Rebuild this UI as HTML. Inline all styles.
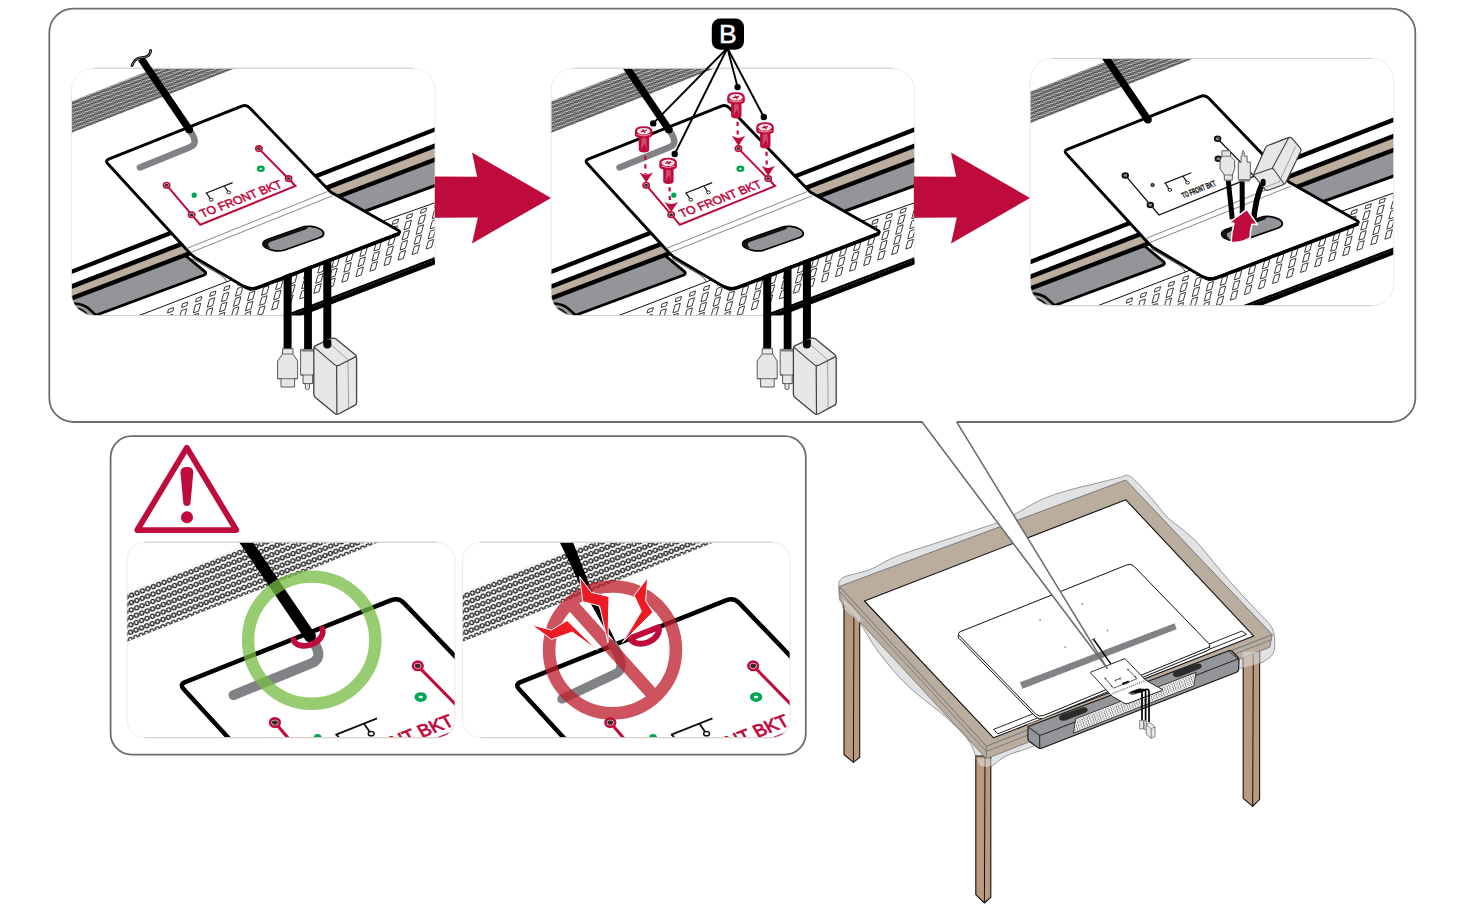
<!DOCTYPE html>
<html lang="en"><head><meta charset="utf-8"><title>Installation step</title>
<style>html,body{margin:0;padding:0;background:#fff}body{width:1465px;height:908px;overflow:hidden}svg{display:block}text{font-family:"Liberation Sans",Arial,sans-serif}</style></head>
<body>
<svg width="1465" height="908" viewBox="0 0 1465 908">
<defs>
<pattern id="grille" width="3.65" height="7.4" patternUnits="userSpaceOnUse" patternTransform="translate(71.5 101.6) rotate(-21.5)"><circle cx="1.825" cy="1.85" r="1.25" fill="none" stroke="#0a0a0a" stroke-width="0.965"/><circle cx="0" cy="5.55" r="1.25" fill="none" stroke="#0a0a0a" stroke-width="0.965"/><circle cx="3.65" cy="5.55" r="1.25" fill="none" stroke="#0a0a0a" stroke-width="0.965"/></pattern>
<pattern id="grilleB" width="3.75" height="8.8" patternUnits="userSpaceOnUse" patternTransform="translate(71.5 101.6) rotate(-21.5)"><circle cx="1.875" cy="2.2" r="1.3" fill="none" stroke="#111" stroke-width="0.86"/><circle cx="0" cy="6.6" r="1.3" fill="none" stroke="#111" stroke-width="0.86"/><circle cx="3.75" cy="6.6" r="1.3" fill="none" stroke="#111" stroke-width="0.86"/></pattern>
<clipPath id="cp1"><rect x="71.5" y="68.3" width="363.5" height="247.2" rx="22"/></clipPath>
<clipPath id="cpA"><rect x="127" y="542.2" width="328" height="195.5" rx="18"/></clipPath>
<clipPath id="cpB"><rect x="462.4" y="542.2" width="327.6" height="195.5" rx="18"/></clipPath>
<pattern id="xh" width="2.6" height="3.2" patternUnits="userSpaceOnUse" patternTransform="rotate(-21)"><path d="M0.2 3.2 L1.5 0" fill="none" stroke="#333" stroke-width="0.6"/></pattern>
<g id="tvbase"><rect x="40" y="40" width="430" height="300" fill="#fff"/>
<polygon points="55,292.99 450,139.99 450,153.98 55,304.7" fill="#bcae9f"/>
<path d="M55 304.7 L185 255.09 L205.2 271.8 Q206.8 274 203.6 275.2 L55 330.55 Z" fill="#939598"/>
<path d="M185 255.09 L205.2 271.8 Q206.8 274 203.6 275.2 L96.5 315" fill="none" stroke="#000" stroke-width="2.8" stroke-linejoin="round"/>
<polygon points="335,197.86 450,153.98 450,180.23 360,213.01" fill="#939598"/>
<line x1="360" y1="213.01" x2="450" y2="180.23" stroke="#000" stroke-width="3"/>
<line x1="55" y1="278.26" x2="450" y2="123.63" stroke="#000" stroke-width="4.4"/>
<line x1="55" y1="292.99" x2="450" y2="139.99" stroke="#000" stroke-width="4.6"/>
<line x1="55" y1="304.7" x2="450" y2="153.98" stroke="#000" stroke-width="4.4"/>
<line x1="120" y1="322.89" x2="231.5" y2="279.95" stroke="#111" stroke-width="1"/>
<line x1="380" y1="222.09" x2="450" y2="197.53" stroke="#111" stroke-width="1"/>
<path d="M192.6 258.6 L219.6 274.4 Q225.8 278 227 282.2" fill="none" stroke="#222" stroke-width="0.8"/>
<path d="M168.51 309.33L173.81 307.58L172.79 311.28L167.49 313.03ZM167.35 316.03L172.65 314.28L170.48 322.18L165.18 323.93ZM165.36 326.13L170.66 324.38L168.49 332.28L163.19 334.03ZM163.37 336.23L168.67 334.48L166.5 342.38L161.2 344.13ZM161.38 346.33L166.68 344.58L164.51 352.48L159.21 354.23ZM182.56 303.8L187.86 302.05L186.84 305.75L181.54 307.5ZM181.4 310.5L186.7 308.75L184.53 316.65L179.23 318.4ZM179.41 320.6L184.71 318.85L182.54 326.75L177.24 328.5ZM177.42 330.7L182.72 328.95L180.55 336.85L175.25 338.6ZM175.43 340.8L180.73 339.05L178.56 346.95L173.26 348.7ZM196.61 298.26L201.91 296.51L200.89 300.21L195.59 301.96ZM195.45 304.96L200.75 303.21L198.58 311.11L193.28 312.86ZM193.46 315.06L198.76 313.31L196.59 321.21L191.29 322.96ZM191.47 325.16L196.77 323.41L194.6 331.31L189.3 333.06ZM189.48 335.26L194.78 333.51L192.61 341.41L187.31 343.16ZM210.66 292.72L215.96 290.98L214.94 294.68L209.64 296.42ZM209.5 299.42L214.8 297.68L212.63 305.58L207.33 307.32ZM207.51 309.52L212.81 307.78L210.64 315.68L205.34 317.42ZM205.52 319.62L210.82 317.88L208.65 325.78L203.35 327.52ZM203.53 329.72L208.83 327.98L206.66 335.88L201.36 337.62ZM224.71 287.19L230.01 285.44L228.99 289.14L223.69 290.89ZM223.55 293.89L228.85 292.14L226.68 300.04L221.38 301.79ZM221.56 303.99L226.86 302.24L224.69 310.14L219.39 311.89ZM219.57 314.09L224.87 312.34L222.7 320.24L217.4 321.99ZM217.58 324.19L222.88 322.44L220.71 330.34L215.41 332.09ZM238.76 281.65L244.06 279.9L243.04 283.6L237.74 285.35ZM237.6 288.35L242.9 286.6L240.73 294.5L235.43 296.25ZM235.61 298.45L240.91 296.7L238.74 304.6L233.44 306.35ZM233.62 308.55L238.92 306.8L236.75 314.7L231.45 316.45ZM231.63 318.65L236.93 316.9L234.76 324.8L229.46 326.55ZM252.81 276.12L258.11 274.37L257.09 278.07L251.79 279.82ZM251.65 282.82L256.95 281.07L254.78 288.97L249.48 290.72ZM249.66 292.92L254.96 291.17L252.79 299.07L247.49 300.82ZM247.67 303.02L252.97 301.27L250.8 309.17L245.5 310.92ZM245.68 313.12L250.98 311.37L248.81 319.27L243.51 321.02ZM266.86 270.58L272.16 268.83L271.14 272.53L265.84 274.28ZM265.7 277.28L271 275.53L268.83 283.43L263.53 285.18ZM263.71 287.38L269.01 285.63L266.84 293.53L261.54 295.28ZM261.72 297.48L267.02 295.73L264.85 303.63L259.55 305.38ZM259.73 307.58L265.03 305.83L262.86 313.73L257.56 315.48ZM280.91 265.05L286.21 263.3L285.19 267L279.89 268.75ZM279.75 271.75L285.05 270L282.88 277.9L277.58 279.65ZM277.76 281.85L283.06 280.1L280.89 288L275.59 289.75ZM275.77 291.95L281.07 290.2L278.9 298.1L273.6 299.85ZM273.78 302.05L279.08 300.3L276.91 308.2L271.61 309.95ZM294.96 259.51L300.26 257.76L299.24 261.46L293.94 263.21ZM293.8 266.21L299.1 264.46L296.93 272.36L291.63 274.11ZM291.81 276.31L297.11 274.56L294.94 282.46L289.64 284.21ZM289.82 286.41L295.12 284.66L292.95 292.56L287.65 294.31ZM287.83 296.51L293.13 294.76L290.96 302.66L285.66 304.41ZM309.01 253.97L314.31 252.23L313.29 255.93L307.99 257.67ZM307.85 260.67L313.15 258.93L310.98 266.83L305.68 268.57ZM305.86 270.77L311.16 269.03L308.99 276.93L303.69 278.67ZM303.87 280.87L309.17 279.13L307 287.03L301.7 288.77ZM301.88 290.97L307.18 289.23L305.01 297.13L299.71 298.87ZM323.06 248.44L328.36 246.69L327.34 250.39L322.04 252.14ZM321.9 255.14L327.2 253.39L325.03 261.29L319.73 263.04ZM319.91 265.24L325.21 263.49L323.04 271.39L317.74 273.14ZM317.92 275.34L323.22 273.59L321.05 281.49L315.75 283.24ZM315.93 285.44L321.23 283.69L319.06 291.59L313.76 293.34ZM337.11 242.9L342.41 241.15L341.39 244.85L336.09 246.6ZM335.95 249.6L341.25 247.85L339.08 255.75L333.78 257.5ZM333.96 259.7L339.26 257.95L337.09 265.85L331.79 267.6ZM331.97 269.8L337.27 268.05L335.1 275.95L329.8 277.7ZM329.98 279.9L335.28 278.15L333.11 286.05L327.81 287.8ZM351.16 237.37L356.46 235.62L355.44 239.32L350.14 241.07ZM350 244.07L355.3 242.32L353.13 250.22L347.83 251.97ZM348.01 254.17L353.31 252.42L351.14 260.32L345.84 262.07ZM346.02 264.27L351.32 262.52L349.15 270.42L343.85 272.17ZM344.03 274.37L349.33 272.62L347.16 280.52L341.86 282.27ZM365.21 231.83L370.51 230.08L369.49 233.78L364.19 235.53ZM364.05 238.53L369.35 236.78L367.18 244.68L361.88 246.43ZM362.06 248.63L367.36 246.88L365.19 254.78L359.89 256.53ZM360.07 258.73L365.37 256.98L363.2 264.88L357.9 266.63ZM358.08 268.83L363.38 267.08L361.21 274.98L355.91 276.73ZM379.26 226.3L384.56 224.55L383.54 228.25L378.24 230ZM378.1 233L383.4 231.25L381.23 239.15L375.93 240.9ZM376.11 243.1L381.41 241.35L379.24 249.25L373.94 251ZM374.12 253.2L379.42 251.45L377.25 259.35L371.95 261.1ZM372.13 263.3L377.43 261.55L375.26 269.45L369.96 271.2ZM393.31 220.76L398.61 219.01L397.59 222.71L392.29 224.46ZM392.15 227.46L397.45 225.71L395.28 233.61L389.98 235.36ZM390.16 237.56L395.46 235.81L393.29 243.71L387.99 245.46ZM388.17 247.66L393.47 245.91L391.3 253.81L386 255.56ZM386.18 257.76L391.48 256.01L389.31 263.91L384.01 265.66ZM407.36 215.22L412.66 213.48L411.64 217.18L406.34 218.92ZM406.2 221.92L411.5 220.18L409.33 228.08L404.03 229.82ZM404.21 232.02L409.51 230.28L407.34 238.18L402.04 239.92ZM402.22 242.12L407.52 240.38L405.35 248.28L400.05 250.02ZM400.23 252.22L405.53 250.48L403.36 258.38L398.06 260.12ZM421.41 209.69L426.71 207.94L425.69 211.64L420.39 213.39ZM420.25 216.39L425.55 214.64L423.38 222.54L418.08 224.29ZM418.26 226.49L423.56 224.74L421.39 232.64L416.09 234.39ZM416.27 236.59L421.57 234.84L419.4 242.74L414.1 244.49ZM414.28 246.69L419.58 244.94L417.41 252.84L412.11 254.59ZM435.46 204.15L440.76 202.4L439.74 206.1L434.44 207.85ZM434.3 210.85L439.6 209.1L437.43 217L432.13 218.75ZM432.31 220.95L437.61 219.2L435.44 227.1L430.14 228.85ZM430.32 231.05L435.62 229.3L433.45 237.2L428.15 238.95ZM428.33 241.15L433.63 239.4L431.46 247.3L426.16 249.05ZM449.51 198.62L454.81 196.87L453.79 200.57L448.49 202.32ZM448.35 205.32L453.65 203.57L451.48 211.47L446.18 213.22ZM446.36 215.42L451.66 213.67L449.49 221.57L444.19 223.32ZM444.37 225.52L449.67 223.77L447.5 231.67L442.2 233.42ZM442.38 235.62L447.68 233.87L445.51 241.77L440.21 243.52Z" fill="#fff" stroke="#3a3a3a" stroke-width="1" stroke-linejoin="round"/>
<line x1="240" y1="335.81" x2="450" y2="255.04" stroke="#000" stroke-width="6.9"/>
<line x1="240" y1="334.61" x2="450" y2="253.84" stroke="#888" stroke-width="0.45" stroke-dasharray="2 1.4"/>
<path d="M70 303.5 Q82 303 88 308 L98 317" fill="none" stroke="#000" stroke-width="2.6"/>
<path d="M70 308 Q80 307.5 85 312 L92 319" fill="none" stroke="#000" stroke-width="1.2"/></g>
<g id="grA"><polygon points="55,107.72 190,54.39 270,54.49 55,139.42" fill="url(#grille)"/></g>
<g id="grB"><polygon points="55,107.72 190,54.39 270,54.49 55,139.42" fill="url(#grilleB)"/></g>
<g id="plate"><path d="M107.6 163.55Q104.9 160.6 108.62 159.12L241.75 106.15Q246.4 104.3 249.86 107.91L330.6 192L398.12 230.23Q401.6 232.2 397.87 233.63L258.7 287.07Q250.3 290.3 242.55 285.72L197.04 258.83Q193.6 256.8 190.81 253.94L185.6 248.6Z" fill="#fff" stroke="#000" stroke-width="2.9" stroke-linejoin="round"/>
<path d="M245.4 287.2 Q250.6 290.6 258.6 287.4 L398.5 234.3" fill="none" stroke="#000" stroke-width="3.3" stroke-linecap="round"/>
<line x1="186.5" y1="248.6" x2="327.5" y2="191.6" stroke="#555" stroke-width="0.7"/>
<line x1="190.5" y1="252.6" x2="332.5" y2="195.8" stroke="#555" stroke-width="0.7"/>
<g transform="matrix(0.9435 -0.331 0.857 0.515 293.3 238.6)"><rect x="-28.6" y="-10.2" width="57.2" height="20.4" rx="10.2" fill="#939598" stroke="#000" stroke-width="1.7" vector-effect="non-scaling-stroke"/><path d="M-27.8 -1.5 Q-26.5 -9.6 -18 -9.6 L18 -9.6 Q21 -9.6 23.6 -8 L19 -5.8 L-18 -5.8 Q-25 -5.8 -26.2 3Z" fill="#111"/></g></g>
<g id="redmarks"><polyline points="166.6,185.2 200.3,224.8 295.5,186 258.9,148.6" fill="none" stroke="#bf0a3c" stroke-width="2.0" stroke-linejoin="miter"/>
<ellipse cx="166.6" cy="185.2" rx="3.1" ry="2.7" fill="#fff" stroke="#bf0a3c" stroke-width="1.7"/>
<ellipse cx="166.6" cy="185.2" rx="1.9" ry="1.5" fill="#3a2a2c"/>
<ellipse cx="191.6" cy="214.7" rx="3.1" ry="2.7" fill="#fff" stroke="#bf0a3c" stroke-width="1.7"/>
<ellipse cx="191.6" cy="214.7" rx="1.9" ry="1.5" fill="#3a2a2c"/>
<ellipse cx="258.9" cy="148.6" rx="3.1" ry="2.7" fill="#fff" stroke="#bf0a3c" stroke-width="1.7"/>
<ellipse cx="258.9" cy="148.6" rx="1.9" ry="1.5" fill="#3a2a2c"/>
<ellipse cx="288.6" cy="178.6" rx="3.1" ry="2.7" fill="#fff" stroke="#bf0a3c" stroke-width="1.7"/>
<ellipse cx="288.6" cy="178.6" rx="1.9" ry="1.5" fill="#3a2a2c"/>
<path d="M205.7 193.2 L232.6 182.6 M206.4 192.8 L210.2 198.6 M224.2 186 L227.8 191.2" fill="none" stroke="#111" stroke-width="1.2"/><ellipse cx="211.2" cy="199.7" rx="1.9" ry="1.4" fill="#fff" stroke="#111" stroke-width="0.9"/><ellipse cx="228.8" cy="192.4" rx="1.9" ry="1.4" fill="#fff" stroke="#111" stroke-width="0.9"/><circle cx="194.2" cy="195.2" r="2.6" fill="#00a651"/><ellipse cx="260.8" cy="168.8" rx="4" ry="3.2" fill="#00a651"/><ellipse cx="260.8" cy="168.8" rx="1.5" ry="0.9" fill="#e8f6ee"/></g>
<g id="botcables"><polygon points="283.6,275.62 291.6,272.6 291.6,349 283.6,349" fill="#000"/>
<polygon points="304.1,267.89 311.9,264.95 311.9,349.6 304.1,349.6" fill="#000"/>
<polygon points="323.3,260.65 331.3,257.63 331.3,347 323.3,347" fill="#000"/>
<path d="M282.6 348.7 H293 V354 L297.6 361 V378.7 H294.6 V387 H281 V378.7 H277.6 V361 L282.6 354 Z" fill="#e6e7e8" stroke="#58595b" stroke-width="1"/>
<path d="M282.6 354 H293 M277.6 378.7 H297.6" stroke="#58595b" stroke-width="0.9" fill="none"/>
<path d="M300.6 349.4 H315.2 V375 H312.6 V383.6 H309.4 V388.6 Q307.4 390.6 305.4 388.6 V383.6 H303 V375 H300.6 Z" fill="#e6e7e8" stroke="#58595b" stroke-width="1"/>
<rect x="301.6" y="349.4" width="12.6" height="2.2" fill="#808285"/>
<path d="M300.6 375 H315.2 M303 383.6 H312.6" stroke="#58595b" stroke-width="0.9" fill="none"/>
<path d="M313.8 349 Q313.4 346.4 316 345.3 L331 338.6 Q333.8 337.4 336 339 L355 354.6 Q356.6 356 356.6 358 L356.6 402.4 Q356.6 404.4 354.6 405.4 L338.6 414 Q336.6 415 334.8 413.6 L315.4 397.6 Q313.8 396.4 313.8 394 Z" fill="#e6e7e8" stroke="#414042" stroke-width="1.3" stroke-linejoin="round"/>
<path d="M314.4 347.4 L334.6 364.6 Q336.6 366.4 339 365.2 L356 356.6 M336.6 366 L336.9 414" fill="none" stroke="#414042" stroke-width="1.2"/>
<path d="M330 344 L348 359.6 L348.6 408.4" fill="none" stroke="#6d6e71" stroke-width="0.6"/>
<path d="M323.3 340 V344.5 Q323.3 348.6 327.3 348.6 Q331.3 348.6 331.3 344.5 V340 Z" fill="#000"/></g>
<g id="gcable"><path d="M189.2 129.6 L192.4 134.6 Q197.8 143.6 190.4 146.9 L139.9 167.5" fill="none" stroke="#808285" stroke-width="6.5" stroke-linecap="round" stroke-linejoin="round"/></g>
</defs>
<rect width="1465" height="908" fill="#fff"/>
<rect x="49.3" y="8.55" width="1366.0" height="413.45" rx="24" fill="#fff" stroke="#6d6e71" stroke-width="1.8"/>
<g id="p1">
<g clip-path="url(#cp1)"><use href="#tvbase"/><use href="#grA"/><use href="#plate"/><use href="#redmarks"/><text transform="matrix(0.9336 -0.3584 0.5 0.84 202.4 217.8)" font-family="'Liberation Sans', Arial, sans-serif" font-size="12.2" fill="#bf0a3c" stroke="#bf0a3c" stroke-width="0.55" textLength="86.5" lengthAdjust="spacingAndGlyphs">TO FRONT BKT</text><use href="#gcable"/></g>
<path d="M283 315.5 H93.5 A22 22 0 0 1 71.5 293.5 V90.3 A22 22 0 0 1 93.5 68.3 H413 A22 22 0 0 1 435 90.3 V259.5" fill="none" stroke="#ebe5e0" stroke-width="0.8"/><path d="M93.5 68.3 H413 M93.5 315.5 H283" fill="none" stroke="#d3c8be" stroke-width="0.9"/>
<line x1="141" y1="58.5" x2="189.2" y2="129.4" stroke="#000" stroke-width="7.4"/><circle cx="189.2" cy="129.4" r="3.9" fill="#000"/>
<path d="M131.6 66.6 C133.4 60.6 137 57.8 141.6 57.5 C146.8 57.2 150.2 56.2 150.9 49.4" fill="none" stroke="#000" stroke-width="2.7"/><path d="M132 65.8 C133.6 60.8 137.2 57.9 141.6 57.5 C146.6 57.2 150 56.4 150.8 50.4" fill="none" stroke="#fff" stroke-width="0.5"/>
<use href="#botcables"/>
</g>
<g id="p2">
<g transform="translate(479.6 0)">
<g clip-path="url(#cp1)"><use href="#tvbase"/><use href="#grA"/><use href="#plate"/><use href="#redmarks"/><text transform="matrix(0.9336 -0.3584 0.5 0.84 202.4 217.8)" font-family="'Liberation Sans', Arial, sans-serif" font-size="12.2" fill="#bf0a3c" stroke="#bf0a3c" stroke-width="0.55" textLength="86.5" lengthAdjust="spacingAndGlyphs">TO FRONT BKT</text><use href="#gcable"/><line x1="127.4" y1="38.5" x2="189.2" y2="129.4" stroke="#000" stroke-width="7.4"/><circle cx="189.2" cy="129.4" r="3.9" fill="#000"/></g>
<path d="M283 315.5 H93.5 A22 22 0 0 1 71.5 293.5 V90.3 A22 22 0 0 1 93.5 68.3 H413 A22 22 0 0 1 435 90.3 V259.5" fill="none" stroke="#ebe5e0" stroke-width="0.8"/><path d="M93.5 68.3 H413 M93.5 315.5 H283" fill="none" stroke="#d3c8be" stroke-width="0.9"/>
<use href="#botcables"/>
</g>
<line x1="727.4" y1="48" x2="653.2" y2="123.4" stroke="#000" stroke-width="1.9"/>
<circle cx="653.2" cy="123.4" r="3.2" fill="#000"/>
<line x1="727.4" y1="48" x2="674.7" y2="154" stroke="#000" stroke-width="1.9"/>
<circle cx="674.7" cy="154" r="3.2" fill="#000"/>
<line x1="727.4" y1="48" x2="737.6" y2="87.1" stroke="#000" stroke-width="1.9"/>
<circle cx="737.6" cy="87.1" r="3.2" fill="#000"/>
<line x1="727.4" y1="48" x2="763.8" y2="117" stroke="#000" stroke-width="1.9"/>
<circle cx="763.8" cy="117" r="3.2" fill="#000"/>
<rect x="711.8" y="18.4" width="32.2" height="31.4" rx="8.5" fill="#000"/>
<text x="727.9" y="43.2" text-anchor="middle" font-family="'Liberation Sans', Arial, sans-serif" font-size="26.5" fill="#fff" stroke="#fff" stroke-width="0.5">B</text>
<line x1="645.2" y1="155.7" x2="645.5" y2="174.1" stroke="#bf0a3c" stroke-width="2.2" stroke-dasharray="4.2 4.4"/><path d="M646.2 182.6 L639.4 172.2 Q646.2 177 653 172.2 Z" fill="#bf0a3c"/>
<g transform="translate(643.7 126.2)"><path d="M-4.9 9 V23.2 Q-4.9 26.2 0.3 26.2 Q5.5 26.2 5.5 23.2 V9 Z" fill="#bf0a3c"/><path d="M-1.8 12 L-2.6 23.5 L1.2 17 L3 24 L2.6 12 Z" fill="#d4566f" opacity="0.85"/><path d="M-8.8 5.2 Q-8.8 0 0 0 Q8.8 0 8.8 5.2 V8.6 Q8.8 11.8 0 11.8 Q-8.8 11.8 -8.8 8.6 Z" fill="#bf0a3c"/><ellipse cx="0" cy="5" rx="6.6" ry="3.3" fill="#fbe9ec"/><path d="M-6.8 8.3 Q0 11.2 6.8 8.3" fill="none" stroke="#f3c3cc" stroke-width="0.8"/><path d="M-3 5.6 L3 4.2 M-1.1 3.2 L1.3 6.8" stroke="#bf0a3c" stroke-width="1.3" fill="none"/></g>
<line x1="669.6" y1="187.3" x2="669.9" y2="203.6" stroke="#bf0a3c" stroke-width="2.2" stroke-dasharray="4.2 4.4"/><path d="M671.2 212.1 L664.4 201.7 Q671.2 206.5 678 201.7 Z" fill="#bf0a3c"/>
<g transform="translate(668.1 157.8)"><path d="M-4.9 9 V23.2 Q-4.9 26.2 0.3 26.2 Q5.5 26.2 5.5 23.2 V9 Z" fill="#bf0a3c"/><path d="M-1.8 12 L-2.6 23.5 L1.2 17 L3 24 L2.6 12 Z" fill="#d4566f" opacity="0.85"/><path d="M-8.8 5.2 Q-8.8 0 0 0 Q8.8 0 8.8 5.2 V8.6 Q8.8 11.8 0 11.8 Q-8.8 11.8 -8.8 8.6 Z" fill="#bf0a3c"/><ellipse cx="0" cy="5" rx="6.6" ry="3.3" fill="#fbe9ec"/><path d="M-6.8 8.3 Q0 11.2 6.8 8.3" fill="none" stroke="#f3c3cc" stroke-width="0.8"/><path d="M-3 5.6 L3 4.2 M-1.1 3.2 L1.3 6.8" stroke="#bf0a3c" stroke-width="1.3" fill="none"/></g>
<line x1="737.5" y1="121.8" x2="737.8" y2="137.5" stroke="#bf0a3c" stroke-width="2.2" stroke-dasharray="4.2 4.4"/><path d="M738.5 146 L731.7 135.6 Q738.5 140.4 745.3 135.6 Z" fill="#bf0a3c"/>
<g transform="translate(736 92.3)"><path d="M-4.9 9 V23.2 Q-4.9 26.2 0.3 26.2 Q5.5 26.2 5.5 23.2 V9 Z" fill="#bf0a3c"/><path d="M-1.8 12 L-2.6 23.5 L1.2 17 L3 24 L2.6 12 Z" fill="#d4566f" opacity="0.85"/><path d="M-8.8 5.2 Q-8.8 0 0 0 Q8.8 0 8.8 5.2 V8.6 Q8.8 11.8 0 11.8 Q-8.8 11.8 -8.8 8.6 Z" fill="#bf0a3c"/><ellipse cx="0" cy="5" rx="6.6" ry="3.3" fill="#fbe9ec"/><path d="M-6.8 8.3 Q0 11.2 6.8 8.3" fill="none" stroke="#f3c3cc" stroke-width="0.8"/><path d="M-3 5.6 L3 4.2 M-1.1 3.2 L1.3 6.8" stroke="#bf0a3c" stroke-width="1.3" fill="none"/></g>
<line x1="766.5" y1="151.8" x2="766.8" y2="167.5" stroke="#bf0a3c" stroke-width="2.2" stroke-dasharray="4.2 4.4"/><path d="M768.2 176 L761.4 165.6 Q768.2 170.4 775 165.6 Z" fill="#bf0a3c"/>
<g transform="translate(765 122.3)"><path d="M-4.9 9 V23.2 Q-4.9 26.2 0.3 26.2 Q5.5 26.2 5.5 23.2 V9 Z" fill="#bf0a3c"/><path d="M-1.8 12 L-2.6 23.5 L1.2 17 L3 24 L2.6 12 Z" fill="#d4566f" opacity="0.85"/><path d="M-8.8 5.2 Q-8.8 0 0 0 Q8.8 0 8.8 5.2 V8.6 Q8.8 11.8 0 11.8 Q-8.8 11.8 -8.8 8.6 Z" fill="#bf0a3c"/><ellipse cx="0" cy="5" rx="6.6" ry="3.3" fill="#fbe9ec"/><path d="M-6.8 8.3 Q0 11.2 6.8 8.3" fill="none" stroke="#f3c3cc" stroke-width="0.8"/><path d="M-3 5.6 L3 4.2 M-1.1 3.2 L1.3 6.8" stroke="#bf0a3c" stroke-width="1.3" fill="none"/></g>
</g>
<g id="p3" transform="translate(958.7 -9.8)">
<g clip-path="url(#cp1)"><use href="#tvbase"/><use href="#grA"/><use href="#plate"/>
<polyline points="166.6,185.2 200.3,224.8 295.5,186 258.9,148.6" fill="none" stroke="#111" stroke-width="1.3"/>
<ellipse cx="166.6" cy="185.2" rx="2.8" ry="2.3" fill="#8a8a8a" stroke="#111" stroke-width="1.9"/>
<ellipse cx="191.6" cy="214.7" rx="2.8" ry="2.3" fill="#8a8a8a" stroke="#111" stroke-width="1.9"/>
<ellipse cx="258.9" cy="148.6" rx="2.8" ry="2.3" fill="#8a8a8a" stroke="#111" stroke-width="1.9"/>
<ellipse cx="259.6" cy="168.6" rx="2.8" ry="2.3" fill="#8a8a8a" stroke="#111" stroke-width="1.9"/>
<circle cx="193.9" cy="194.8" r="1.7" fill="#666" stroke="#111" stroke-width="0.9"/>
<path d="M205.7 193.2 L232.6 182.6 M206.4 192.8 L210.2 198.6 M224.2 186 L227.8 191.2" fill="none" stroke="#111" stroke-width="1.2"/><ellipse cx="211.2" cy="199.7" rx="1.9" ry="1.4" fill="#fff" stroke="#111" stroke-width="0.9"/><ellipse cx="228.8" cy="192.4" rx="1.9" ry="1.4" fill="#fff" stroke="#111" stroke-width="0.9"/>
<text transform="matrix(0.93 -0.368 0.45 0.86 224.9 208.2)" font-family="'Liberation Sans', Arial, sans-serif" font-size="8.8" font-weight="bold" fill="#111" stroke="#111" stroke-width="0.25" textLength="35.5" lengthAdjust="spacingAndGlyphs">TO FRONT BKT</text>
<line x1="127.4" y1="38.5" x2="189.2" y2="129.4" stroke="#000" stroke-width="7.4"/><circle cx="189.2" cy="129.4" r="3.9" fill="#000"/>
<path d="M269.6 190.5 L273.6 229" stroke="#000" stroke-width="5" fill="none"/>
<path d="M283.4 191 L283.6 224" stroke="#000" stroke-width="5" fill="none"/>
<path d="M304.4 191.5 Q296.5 208 294.6 233" stroke="#000" stroke-width="5.6" fill="none" stroke-linecap="round"/>
<path d="M263.2 160.6 H271.8 V166 L276 170.2 V178.6 L273.6 184.8 V190 H265.6 V184.8 L261.4 178.6 V170.2 L263.2 166 Z" fill="#e6e7e8" stroke="#58595b" stroke-width="1"/>
<path d="M263.2 166 H271.8 M265.6 184.8 H273.6" stroke="#58595b" stroke-width="0.8" fill="none"/>
<path d="M284.4 160.4 L285.6 162.6 V166 H288.4 V172 H291.6 V189.4 H279.6 V172 H282.4 V166 H283.4 V162.6 Z" fill="#e6e7e8" stroke="#58595b" stroke-width="1"/>
<rect x="280" y="189" width="11.2" height="2.4" fill="#808285"/>
<path d="M308.6 155.6 L329.6 147.4 Q332 146.6 333.6 148.4 L341.6 158 Q342.8 159.6 342 161.4 L327 192.4 Q326.2 194 324.4 194.6 L309.4 200 Q307.4 200.6 306 199 L295.6 186 Q294.6 184.6 295.4 183 L307 157 Q307.6 156 308.6 155.6 Z" fill="#e6e7e8" stroke="#414042" stroke-width="1.2" stroke-linejoin="round"/>
<path d="M295.6 184.4 L312 178.6 Q314 178 315.4 179.6 L325.4 193.8 M313.4 178.2 L330 147.6" fill="none" stroke="#414042" stroke-width="1.1"/>
<path d="M303 198.4 L320.6 191.6 L337 156" fill="none" stroke="#6d6e71" stroke-width="0.6"/>
<path d="M304.4 193.5 L304.4 191" stroke="#000" stroke-width="5" stroke-linecap="round"/>
<path d="M288.2 219.1 L298.8 234.4 L293.3 234.2 Q291.2 241 291.5 247.6 Q282 253.4 272.4 252 Q272.8 242 275.2 233.2 L270.2 232.4 Z" fill="#bf0a3c" stroke="#fff" stroke-width="1.6" stroke-linejoin="round"/>
</g>
<rect x="71.5" y="68.3" width="363.5" height="247.2" rx="22" fill="none" stroke="#ebe5e0" stroke-width="0.8"/><path d="M93.5 68.3 H413 M93.5 315.5 H413" fill="none" stroke="#d3c8be" stroke-width="0.9"/>
</g>
<g id="warn">
<rect x="110.6" y="436.2" width="695.2" height="318.4" rx="21" fill="#fff" stroke="#6d6e71" stroke-width="1.8"/>
<path d="M186.8 447.8 L236.3 530.1 H137.3 Z" fill="#fff" stroke="#bf0a3c" stroke-width="5.8" stroke-linejoin="round"/>
<path d="M180.5 472.4 Q180.4 467 186.9 467 Q193.4 467 193.3 472.4 L190.5 503 Q190.2 505.9 186.9 505.9 Q183.6 505.9 183.3 503 Z" fill="#bf0a3c"/>
<circle cx="187" cy="517.3" r="6" fill="#bf0a3c"/>
<g clip-path="url(#cpA)"><g transform="translate(17 435.8) scale(1.548)"><use href="#tvbase"/><use href="#grB"/><use href="#plate"/><use href="#redmarks"/><text transform="matrix(0.9336 -0.3584 0.5 0.84 202.4 217.8)" font-family="'Liberation Sans', Arial, sans-serif" font-size="12.2" fill="#bf0a3c" stroke="#bf0a3c" stroke-width="0.55" textLength="86.5" lengthAdjust="spacingAndGlyphs">TO FRONT BKT</text><use href="#gcable"/><line x1="127.4" y1="38.5" x2="189.2" y2="129.4" stroke="#000" stroke-width="7.4"/><circle cx="189.2" cy="129.4" r="3.9" fill="#000"/><path d="M-10 0 A10 7 0 0 0 10 0" transform="translate(187.9 128.2) rotate(-21.5)" fill="none" stroke="#bf0a3c" stroke-width="3.7" stroke-linecap="round"/></g></g>
<rect x="127" y="542.2" width="328" height="195.5" rx="18" fill="none" stroke="#ebe5e0" stroke-width="0.8"/><path d="M145 542.2 H437 M145 737.7 H437" fill="none" stroke="#d3c8be" stroke-width="0.9"/>
<circle cx="311.7" cy="640.2" r="63.6" fill="none" stroke="#76bc43" stroke-width="12.4" opacity="0.76"/>
<g clip-path="url(#cpB)"><g transform="translate(352.4 435.8) scale(1.548)"><use href="#tvbase"/><use href="#grB"/><use href="#plate"/><use href="#redmarks"/><text transform="matrix(0.9336 -0.3584 0.5 0.84 202.4 217.8)" font-family="'Liberation Sans', Arial, sans-serif" font-size="12.2" fill="#bf0a3c" stroke="#bf0a3c" stroke-width="0.55" textLength="86.5" lengthAdjust="spacingAndGlyphs">TO FRONT BKT</text><path d="M384.6 134.6 Q394.5 149.5 387 153.6 L352 170" fill="none" stroke="#808285" stroke-width="6" stroke-linecap="round" stroke-linejoin="round" transform="translate(-216.66 0)"/><polygon points="129.7,60 139.1,60 142.6,69 152.8,95.5 158.8,110 169,130.5 170.3,133.9 163.9,126.2 146.8,95.5 134,69" fill="#000"/><path d="M-9.8 0 A9.8 6.6 0 0 0 9.8 0 Z" transform="translate(188.6 127.2) rotate(-21.5)" fill="#fff" stroke="#bf0a3c" stroke-width="3.8" stroke-linejoin="round"/></g></g>
<rect x="462.4" y="542.2" width="327.6" height="195.5" rx="18" fill="none" stroke="#ebe5e0" stroke-width="0.8"/><path d="M480.4 542.2 H772 M480.4 737.7 H772" fill="none" stroke="#d3c8be" stroke-width="0.9"/>
<g opacity="0.76" fill="none" stroke="#be1e2d" stroke-width="12.6"><circle cx="612.5" cy="649.9" r="63.4"/><line x1="570.2" y1="602.8" x2="654.8" y2="697"/></g>
<polygon points="531.5,624.8 551.4,630 567.1,620.6 597.4,649.9 572.3,632.1 551.4,639.4" fill="#ed1c24" stroke="#fff" stroke-width="1"/>
<polygon points="579.6,576.6 591.2,592.3 609,596.5 607.9,642.6 599.5,605.9 582.8,601.7" fill="#ed1c24" stroke="#fff" stroke-width="1"/>
<polygon points="647.7,577.7 645.6,600.7 652.9,612.2 622.6,642.6 641.4,611.2 634.1,595.5" fill="#ed1c24" stroke="#fff" stroke-width="1"/>
</g>
<g id="table" stroke-linejoin="round">
<path d="M838.8 586.4C838.85 583.73 838.42 582.68 839.6 581C840.78 579.32 840.9 578.18 845.9 576.3C850.9 574.42 861.23 573 869.6 569.7C877.97 566.4 885.08 560.92 896.1 556.5C907.12 552.08 923.82 547.17 935.7 543.2C947.58 539.23 956.83 536.22 967.4 532.7C977.97 529.18 991.17 525.18 999.1 522.1C1007.03 519.02 1007.95 517.95 1015 514.2C1022.05 510.45 1032.6 503.57 1041.4 499.6C1050.2 495.63 1058.98 493.03 1067.8 490.4C1076.62 487.77 1085.48 486 1094.3 483.8C1103.12 481.6 1115.18 478.63 1120.7 477.2C1126.22 475.77 1125.07 474.73 1127.4 475.2C1129.73 475.67 1130.65 476.12 1134.7 480C1138.75 483.88 1146.3 492.33 1151.7 498.5C1157.1 504.67 1161.97 511.85 1167.1 517C1172.23 522.15 1177.37 525.02 1182.5 529.4C1187.63 533.78 1192.77 537.9 1197.9 543.3C1203.03 548.7 1208.15 555.63 1213.3 561.8C1218.45 567.97 1223.65 574.4 1228.8 580.3C1233.95 586.2 1239.33 591.92 1244.2 597.2C1249.07 602.48 1253.83 607.58 1258 612C1262.17 616.42 1266.58 620.27 1269.2 623.7C1271.82 627.13 1272.77 628.97 1273.7 632.6C1274.63 636.23 1274.88 642.03 1274.8 645.5C1274.72 648.97 1274.47 651.08 1273.2 653.4C1271.93 655.72 1269.52 657.75 1267.2 659.4C1264.88 661.05 1263.92 661.77 1259.3 663.3C1254.68 664.83 1257.72 662.15 1239.5 668.6C1221.28 675.05 1184.83 688.9 1150 702C1115.17 715.1 1052.62 738.93 1030.5 747.2C1008.38 755.47 1021.72 749.95 1017.3 751.6C1012.88 753.25 1007.88 754.93 1004 757.1C1000.12 759.27 996.67 763.02 994 764.6C991.33 766.18 990.33 766.53 988 766.6C985.67 766.67 982.02 766.73 980 765C977.98 763.27 978.05 760.6 975.9 756.2C973.75 751.8 972.23 745.22 967.1 738.6C961.97 731.98 955 725.32 945.1 716.5C935.2 707.68 918.72 696.33 907.7 685.7C896.68 675.07 887.02 663.22 879 652.7C870.98 642.18 864.1 628.72 859.6 622.6C855.1 616.48 854.58 618.22 852 616C849.42 613.78 845.85 611.58 844.1 609.3C842.35 607.02 842.3 604.35 841.5 602.3C840.7 600.25 839.75 599.65 839.3 597C838.85 594.35 838.75 589.07 838.8 586.4Z" fill="#e1e2e4" stroke="#8a8c8f" stroke-width="0.9"/>
<path d="M844 596 V754.5 L853.4 762.4 L859.7 757.4 V596 Z" fill="#ba9a7e" stroke="#111" stroke-width="1.1"/><path d="M854 596 L853.4 762.4" stroke="#111" stroke-width="1" fill="none"/><path d="M975.8 756 V894.6 L984.4 903 L990.8 897.4 V756 Z" fill="#ba9a7e" stroke="#111" stroke-width="1.1"/><path d="M985 756 L984.4 903" stroke="#111" stroke-width="1" fill="none"/><path d="M1243.2 650 V798.4 L1252.7 806.3 L1259.6 799.4 V650 Z" fill="#ba9a7e" stroke="#111" stroke-width="1.1"/><path d="M1253.3 650 L1252.7 806.3" stroke="#111" stroke-width="1" fill="none"/>
<polygon points="839.5,586.4 986.4,746.1 986.4,758.7 840.1,600.5" fill="#baad9e" stroke="#77787b" stroke-width="0.9"/>
<polygon points="986.4,746.1 1272.2,634.6 1269.8,647.2 986.4,758.7" fill="#baad9e" stroke="#77787b" stroke-width="0.9"/>
<polygon points="839.5,586.4 1125.8,480 1272.2,634.6 986.4,746.1" fill="#baad9e" stroke="#77787b" stroke-width="1"/>
<path d="M839.9 591.9 L986.2 751.3" stroke="#77787b" stroke-width="0.9" fill="none"/>
<path d="M986.6 751.3 L1271.2 639.8" stroke="#77787b" stroke-width="0.9" fill="none"/>
<path d="M843.6 599 L860.4 617 V623.5 L852 616 L844.1 609.3 Z" fill="#e1e2e4" opacity="0.55"/>
<path d="M975.2 758.6 H992 V765.4 Q986 768 979.6 765.4 L975.9 757 Z" fill="#e1e2e4" opacity="0.55"/>
<path d="M1242.6 652 H1260.2 V663 L1242.6 668 Z" fill="#e1e2e4" opacity="0.55"/>
<polygon points="864.4,601 1125.8,499.8 1253.8,636.1 993.6,737.8" fill="#fff" stroke="#111" stroke-width="1.1"/>
<polygon points="993.6,729.4 1242,631 1246.6,634.4 997.8,733.8" fill="#fff" stroke="#111" stroke-width="0.9"/>
<path d="M959.19 638.46Q956.4 635.6 960.11 634.11L1126.92 567.27Q1131.1 565.6 1134.23 568.83L1208.32 645.21Q1211.8 648.8 1207.18 650.71L1044.55 717.91Q1039 720.2 1034.81 715.91Z" fill="#fff" stroke="#111" stroke-width="1"/>
<path d="M959.59 635.96Q956.8 633.1 960.51 631.61L1126.92 564.87Q1131.1 563.2 1134.23 566.43L1208.62 643.33Q1211.4 646.2 1207.7 647.73L1043.62 715.49Q1039 717.4 1035.51 713.82Z" fill="#fff" stroke="#111" stroke-width="1"/>
<polygon points="1020,682.6 1174.6,623.6 1176.6,629 1022.6,688.6" fill="#828386"/>
<path d="M1020 682.6 L1174.6 623.6 M1022.6 688.6 L1176.6 629" stroke="#58595b" stroke-width="0.6" stroke-dasharray="0.8 0.8" fill="none"/>
<circle cx="1040.1" cy="619.9" r="0.9" fill="#8a8c8f"/>
<circle cx="1082.4" cy="604" r="0.9" fill="#8a8c8f"/>
<circle cx="1065.2" cy="647.1" r="0.9" fill="#8a8c8f"/>
<circle cx="1107.5" cy="630.5" r="0.9" fill="#8a8c8f"/>
<path d="M1028 725.2 L1229 649.0" stroke="#baad9e" stroke-width="1.4" fill="none"/>
<path d="M1028.1 726.5 L1228.8 650.7 Q1231 650 1232.6 651.6 L1238.2 657.4 Q1239 658.4 1239 660 L1238.6 669.6 Q1238.4 671.4 1236.6 672.2 L1041.6 748.2 Q1039.6 749 1037.8 747.6 L1029.2 741.2 Q1027.8 740 1027.8 738 Z" fill="#939598" stroke="#111" stroke-width="1.1"/>
<path d="M1028.6 727.2 L1038.6 734.6 Q1040 735.6 1042 734.8 L1238 659" fill="none" stroke="#111" stroke-width="0.9"/>
<path d="M1039.6 735.4 L1039.8 748.4" fill="none" stroke="#111" stroke-width="0.9"/>
<path d="M1228.6 651 L1238.4 659" fill="none" stroke="#111" stroke-width="0.7"/>
<polygon points="1075.7,718.8 1196,672.4 1193.8,685.8 1073.6,733" fill="#fff" stroke="#111" stroke-width="0.8"/>
<polygon points="1076.6,719.8 1195,674 1193.2,684.6 1074.8,731.4" fill="url(#xh)"/>
<path d="M1059.6 719.4 Q1057.6 716.6 1062 714.6 L1082 707.6 Q1086.6 706.6 1087.6 709.2 Q1088 711.6 1084 713.2 L1066 720.2 Q1061.4 721.6 1059.6 719.4Z" fill="#2b2b2b"/>
<path d="M1173.4 675.8 Q1171.4 673 1175.8 671 L1196 663.8 Q1200.6 662.8 1201.6 665.4 Q1202 667.8 1198 669.4 L1180 676.6 Q1175.2 678 1173.4 675.8Z" fill="#2b2b2b"/>
<g transform="translate(1064.3 632.9) scale(0.246)">
<line x1="119" y1="26" x2="189" y2="126" stroke="#000" stroke-width="6"/>
<path d="M110 30 L126 22" stroke="#000" stroke-width="3" fill="none"/>
<path d="M107.6 163.55Q104.9 160.6 108.62 159.12L241.75 106.15Q246.4 104.3 249.86 107.91L330.6 192L398.12 230.23Q401.6 232.2 397.87 233.63L258.7 287.07Q250.3 290.3 242.55 285.72L197.04 258.83Q193.6 256.8 190.81 253.94L185.6 248.6Z" fill="#fff" stroke="#000" stroke-width="3.4" stroke-linejoin="round"/>
<line x1="186.5" y1="250.6" x2="329.5" y2="193.6" stroke="#777" stroke-width="5" stroke-dasharray="5 4"/>
<polyline points="166.6,185.2 200.3,224.8 295.5,186 258.9,148.6" fill="none" stroke="#222" stroke-width="3"/>
<circle cx="166.6" cy="185.2" r="3.4" fill="#444"/>
<circle cx="191.6" cy="214.7" r="3.4" fill="#444"/>
<circle cx="258.9" cy="148.6" r="3.4" fill="#444"/>
<circle cx="288.6" cy="178.6" r="3.4" fill="#444"/>
<path d="M205.7 193 L233 182.4 M206.6 192.6 L210.2 199 M224.4 185.8 L227.8 192" fill="none" stroke="#222" stroke-width="3"/>
<path d="M236 208 L262 198" stroke="#111" stroke-width="9" fill="none"/>
<g transform="matrix(0.9435 -0.331 0.857 0.515 293.3 238.6)"><rect x="-29.5" y="-11.2" width="59" height="22.4" rx="11.2" fill="#58595b"/></g>
</g>
<path d="M1131.6 692.4 L1139.4 689.6 Q1142 689 1142 692 V720.6 M1134.6 692.6 L1143.4 689.6 Q1145.6 689.2 1145.6 692 V720.6 M1137.6 692.4 L1146.6 689.4 Q1149 689 1149 692 V722" fill="none" stroke="#000" stroke-width="1.7"/>
<path d="M1139.6 720.4 H1143.6 V728.8 H1139.6 Z M1144 720.6 H1146.4 V729.6 H1144 Z" fill="#e6e7e8" stroke="#58595b" stroke-width="0.7"/>
<path d="M1146.2 724.4 L1150 722.6 L1155 726.8 V736.4 L1151.2 738.4 L1146.2 734.4 Z M1151.2 728.6 V738.4 M1146.4 724.6 L1151.2 728.6 L1155 726.8" fill="#e6e7e8" stroke="#58595b" stroke-width="0.7"/>
</g>
<polygon points="921.7,420.6 956.5,420.6 1107.5,668.8" fill="#fff"/>
<path d="M921.7 421.6 L1107.5 668.8 L956.5 421.6" fill="none" stroke="#6d6e71" stroke-width="1.6" stroke-linejoin="miter"/>
<polygon points="434.8,176.5 477.2,176.7 472,152.6 551,198 472,243.5 477.8,217.5 434.8,217.7" fill="#bf0a3c"/>
<polygon points="913.8,176.5 956.2,176.7 951,152.6 1030,198 951,243.5 956.8,217.5 913.8,217.7" fill="#bf0a3c"/>
</svg>
</body></html>
